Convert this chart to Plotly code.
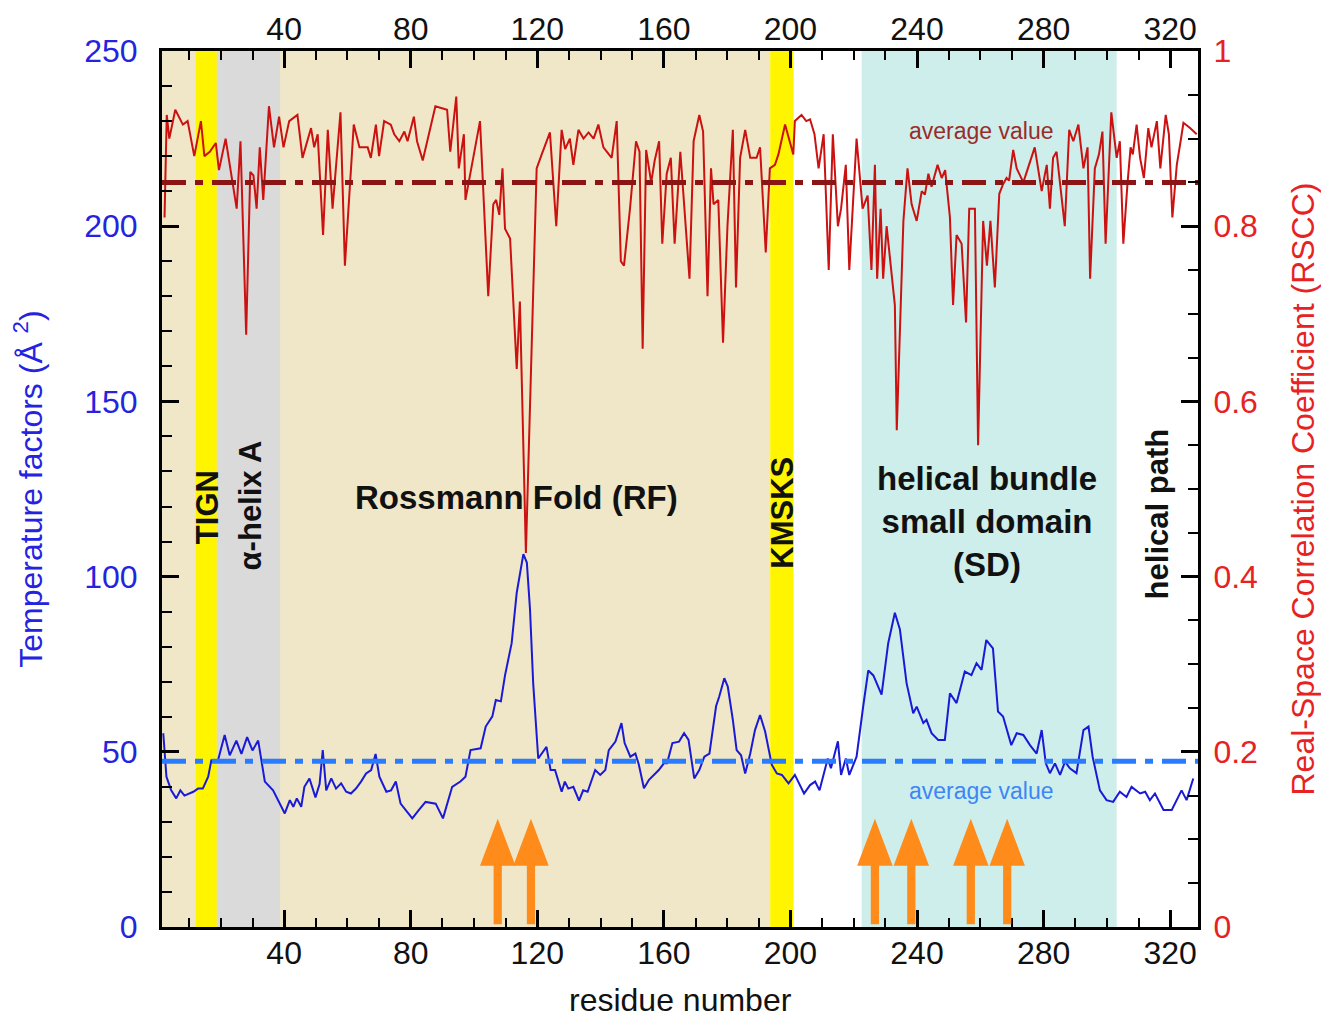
import plotly.graph_objects as go

# ---------------- data ----------------
rscc_res = [2.2, 2.9, 3.7, 5.6, 8.0, 9.5, 11.6, 13.7, 14.8, 16.5, 18.4, 19.4, 21.5, 23.0, 25.0, 26.2, 28.0, 29.3, 30.3, 31.3,
            32.3, 33.4, 35.2, 36.8, 38.4, 39.8, 41.6, 44.2, 45.8, 48.5, 49.5, 50.6, 52.3, 53.8, 55.3, 57.8, 59.2, 62.0, 63.8, 66.4,
            67.4, 69.0, 70.0, 71.6, 73.7, 74.8, 76.4, 78.0, 79.0, 81.0, 82.0, 83.8, 87.8, 91.5, 92.5, 94.4, 95.2, 96.8, 97.3, 101.9,
            104.5, 106.1, 107.0, 108.0, 109.0, 109.8, 111.4, 113.5, 114.5, 116.4, 118.2, 119.8, 121.4, 124.0, 126.0, 127.7, 128.8, 130.3, 131.4, 133.0,
            134.6, 136.2, 137.8, 139.3, 140.9, 143.5, 145.1, 146.4, 147.4, 149.3, 151.2, 152.3, 153.3, 154.4, 156.0, 157.1, 158.5, 159.5, 160.9, 162.2,
            163.4, 165.2, 168.1, 169.4, 171.2, 172.4, 173.8, 174.9, 175.7, 177.2, 178.7, 180.1, 181.8, 182.8, 184.1, 185.7, 187.3, 189.3, 190.4, 192.2,
            193.5, 195.1, 196.2, 198.3, 200.9, 201.4, 203.5, 205.0, 206.2, 207.6, 208.9, 210.5, 212.1, 213.4, 215.0, 216.0, 217.5, 218.6, 220.9, 222.8,
            224.4, 225.6, 226.7, 227.4, 228.5, 229.3, 230.4, 233.0, 233.6, 235.7, 237.0, 238.3, 239.9, 241.5, 242.5, 243.6, 244.6, 246.5, 247.8, 248.9,
            250.4, 251.4, 252.5, 254.1, 255.5, 256.5, 258.3, 259.3, 260.9, 262.1, 263.2, 264.6, 266.0, 267.2, 268.3, 269.1, 270.4, 271.5, 273.6, 275.7,
            277.2, 279.4, 281.0, 282.0, 283.0, 284.1, 286.7, 288.1, 289.4, 291.0, 292.6, 293.9, 294.7, 296.2, 297.5, 298.6, 299.6, 301.4, 303.1, 304.1,
            305.2, 306.5, 307.5, 308.2, 309.4, 310.5, 311.7, 313.1, 314.1, 315.8, 316.9, 318.6, 319.6, 320.7, 322.1, 323.3, 324.2, 326.3, 328.4]
rscc_val = [0.81, 0.927, 0.90, 0.933, 0.916, 0.92, 0.88, 0.92, 0.88, 0.885, 0.895, 0.864, 0.90, 0.866, 0.82, 0.897, 0.676, 0.862, 0.858, 0.82,
            0.89, 0.83, 0.937, 0.89, 0.925, 0.89, 0.92, 0.927, 0.878, 0.912, 0.89, 0.905, 0.79, 0.91, 0.82, 0.93, 0.755, 0.916, 0.89, 0.89,
            0.878, 0.916, 0.88, 0.92, 0.916, 0.905, 0.897, 0.908, 0.897, 0.925, 0.897, 0.875, 0.937, 0.933, 0.885, 0.948, 0.866, 0.905, 0.83, 0.92,
            0.72, 0.825, 0.83, 0.813, 0.866, 0.797, 0.786, 0.637, 0.714, 0.427, 0.67, 0.866, 0.882, 0.907, 0.80, 0.91, 0.888, 0.90, 0.87, 0.91,
            0.90, 0.907, 0.90, 0.916, 0.89, 0.878, 0.92, 0.76, 0.755, 0.82, 0.897, 0.885, 0.66, 0.887, 0.85, 0.875, 0.897, 0.78, 0.86, 0.878,
            0.78, 0.885, 0.74, 0.897, 0.927, 0.908, 0.72, 0.866, 0.825, 0.83, 0.667, 0.80, 0.91, 0.73, 0.878, 0.91, 0.878, 0.878, 0.89, 0.77,
            0.866, 0.87, 0.882, 0.916, 0.882, 0.92, 0.927, 0.92, 0.922, 0.905, 0.866, 0.905, 0.75, 0.905, 0.80, 0.82, 0.87, 0.75, 0.90, 0.82,
            0.835, 0.75, 0.87, 0.74, 0.82, 0.74, 0.80, 0.71, 0.567, 0.806, 0.866, 0.825, 0.806, 0.84, 0.836, 0.86, 0.845, 0.87, 0.855, 0.864,
            0.81, 0.71, 0.79, 0.78, 0.69, 0.82, 0.82, 0.55, 0.806, 0.755, 0.806, 0.73, 0.837, 0.848, 0.855, 0.852, 0.887, 0.866, 0.85, 0.874,
            0.89, 0.84, 0.87, 0.82, 0.878, 0.885, 0.80, 0.91, 0.897, 0.916, 0.866, 0.89, 0.74, 0.866, 0.882, 0.908, 0.78, 0.93, 0.878, 0.897,
            0.78, 0.848, 0.89, 0.882, 0.916, 0.878, 0.855, 0.912, 0.89, 0.92, 0.866, 0.927, 0.905, 0.81, 0.87, 0.897, 0.918, 0.912, 0.905]

bfac_res = [1.8, 2.8, 4.3, 5.9, 7.2, 8.5, 11.3, 12.8, 14.3, 16.0, 17.0, 19.1, 21.2, 22.8, 24.9, 26.5, 28.3, 30.0, 31.8, 33.9,
            36.5, 40.2, 41.8, 42.9, 44.0, 45.4, 46.4, 48.0, 49.9, 51.2, 52.2, 53.3, 54.9, 56.4, 58.0, 59.6, 61.1, 62.7, 64.3, 65.9,
            67.5, 68.9, 70.1, 72.3, 73.8, 75.3, 76.8, 78.4, 80.5, 82.6, 84.7, 87.9, 90.2, 93.1, 95.7, 97.3, 98.9, 102.1, 103.7, 105.8,
            106.9, 108.5, 109.8, 111.9, 113.5, 115.6, 116.7, 117.7, 118.7, 120.3, 121.5, 122.9, 124.2, 125.6, 127.7, 128.7, 129.8, 131.4, 133.2, 134.5,
            135.9, 138.3, 139.9, 141.5, 142.6, 144.7, 146.6, 147.6, 149.4, 151.0, 152.1, 153.7, 155.3, 156.8, 158.4, 160.0, 161.0, 162.7, 164.8, 166.4,
            167.8, 169.6, 171.2, 172.8, 174.4, 176.5, 177.5, 179.1, 180.2, 181.8, 183.0, 184.4, 185.7, 187.3, 188.8, 190.4, 192.0, 194.1, 195.7, 197.3,
            199.4, 201.4, 204.3, 206.2, 207.8, 209.2, 210.4, 211.8, 212.8, 215.0, 216.0, 217.5, 218.6, 220.9, 223.0, 224.6, 226.2, 228.8, 230.9, 233.0,
            234.6, 236.7, 238.8, 239.9, 242.0, 243.0, 244.6, 246.7, 248.8, 250.4, 252.5, 255.1, 257.2, 258.8, 260.4, 261.9, 264.0, 265.6, 267.2, 269.8,
            271.5, 273.6, 275.7, 277.8, 279.4, 280.7, 282.0, 283.6, 285.2, 286.8, 288.3, 290.4, 292.6, 294.2, 295.5, 297.8, 299.9, 302.0, 304.1, 306.2,
            307.8, 310.5, 312.1, 313.6, 315.2, 317.9, 320.5, 322.6, 323.6, 325.2, 327.3]
bfac_val = [55.3, 42.9, 39.0, 36.7, 39.0, 37.5, 38.6, 39.5, 39.5, 42.9, 47.6, 47.6, 54.8, 49.0, 53.2, 49.4, 54.2, 50.4, 53.2, 41.5,
            39.0, 32.4, 36.2, 34.3, 36.7, 34.3, 40.0, 42.4, 37.0, 40.8, 50.5, 39.0, 42.4, 39.5, 41.0, 38.6, 38.1, 39.5, 41.5, 43.8,
            44.8, 49.4, 42.9, 38.6, 39.0, 41.5, 35.2, 33.4, 31.0, 33.4, 35.7, 35.2, 31.0, 40.0, 41.5, 42.9, 50.5, 51.0, 57.2, 60.1,
            64.8, 64.4, 71.8, 81.0, 95.4, 106.4, 104.0, 90.6, 69.6, 48.1, 49.5, 51.4, 44.8, 44.8, 38.6, 41.5, 39.5, 40.0, 36.1, 39.0,
            38.6, 44.8, 43.4, 44.8, 50.5, 52.9, 58.2, 52.5, 48.6, 49.5, 46.3, 39.6, 42.0, 43.4, 44.8, 46.7, 46.7, 52.5, 52.9, 55.3,
            53.4, 42.4, 44.8, 48.6, 49.5, 63.0, 65.8, 71.0, 68.6, 59.1, 50.5, 49.0, 43.8, 49.5, 56.2, 60.5, 55.8, 46.3, 43.8, 43.4,
            41.0, 43.4, 38.1, 40.5, 41.5, 39.0, 43.4, 48.1, 45.3, 53.0, 43.4, 48.1, 43.4, 48.6, 63.0, 73.2, 71.8, 66.3, 81.0, 89.7,
            84.9, 69.6, 61.0, 62.9, 58.2, 59.1, 55.3, 53.4, 53.4, 66.7, 63.9, 72.9, 71.9, 75.3, 73.4, 81.9, 79.5, 61.5, 60.1, 51.9,
            55.3, 54.8, 51.9, 49.5, 56.2, 46.7, 43.9, 46.7, 43.4, 47.2, 45.3, 43.9, 56.2, 57.2, 48.6, 39.0, 36.2, 35.7, 38.6, 37.1,
            40.0, 38.1, 38.6, 36.2, 38.1, 33.4, 33.4, 37.1, 39.0, 36.2, 42.4]

bfac_mean = 47.3
rscc_mean = 0.85

# residue ranges of the shaded domains
rf_range = [1.4, 193.6]
tign_range = [12.1, 18.7]
helixA_range = [18.7, 38.7]
kmsks_range = [193.6, 201.0]
sd_range = [222.5, 303.1]

# residues marked by arrows
arrow_res = [107.5, 118.0, 226.7, 238.2, 257.0, 268.5]

x_ticks = [40, 80, 120, 160, 200, 240, 280, 320]
b_ticks = [0, 50, 100, 150, 200, 250]
r_ticks = [0, 0.2, 0.4, 0.6, 0.8, 1]
r_ticklabels = ["0", "0.2", "0.4", "0.6", "0.8", "1"]

# ---------------- styling ----------------
FONT = "Liberation Sans, Arial, sans-serif"
BLUE = "#1a1ad6"
BLUE_AXIS = "#2424e0"
RED = "#cc1111"
RED_AXIS = "#e62222"
DARKRED = "#8b1414"
AVG_BLUE = "#2a7cff"
ORANGE = "#ff8c1a"
XR = [1.4, 328.8]

fig = go.Figure()

fig.add_trace(go.Scatter(x=bfac_res, y=bfac_val, mode="lines", line=dict(color=BLUE, width=2),
                         xaxis="x", yaxis="y", showlegend=False))
fig.add_trace(go.Scatter(x=rscc_res, y=rscc_val, mode="lines", line=dict(color=RED, width=2),
                         xaxis="x", yaxis="y2", showlegend=False))
fig.add_trace(go.Scatter(x=XR, y=[bfac_mean, bfac_mean], mode="lines",
                         line=dict(color=AVG_BLUE, width=5, dash="24px,9px,8px,9px"),
                         xaxis="x2", yaxis="y", showlegend=False))
fig.add_trace(go.Scatter(x=XR, y=[rscc_mean, rscc_mean], mode="lines",
                         line=dict(color=DARKRED, width=5, dash="24px,9px,8px,9px"),
                         xaxis="x", yaxis="y2", showlegend=False))

shapes = []
def band(rng, color):
    shapes.append(dict(type="rect", xref="x", yref="paper", x0=rng[0], x1=rng[1], y0=0, y1=1,
                       fillcolor=color, line=dict(width=0), layer="below"))

band(rf_range, "#efe7c8")
band(sd_range, "#cdeeea")
band(helixA_range, "#dadada")
band(tign_range, "#fff500")
band(kmsks_range, "#fff500")

# arrows (sizes in residue / B-factor units)
half_shaft = 1.3
half_head = 5.6
y_base, y_neck, y_tip = 0.8, 17.5, 30.9
for r in arrow_res:
    p = (f"M {r-half_shaft},{y_base} L {r+half_shaft},{y_base} L {r+half_shaft},{y_neck} "
         f"L {r+half_head},{y_neck} L {r},{y_tip} L {r-half_head},{y_neck} L {r-half_shaft},{y_neck} Z")
    shapes.append(dict(type="path", xref="x", yref="y", path=p, fillcolor=ORANGE,
                       line=dict(width=0), layer="above"))

ann = []
def label(x, y, text, size=33, angle=0, color="#111111", bold=True):
    t = f"<b>{text}</b>" if bold else text
    ann.append(dict(x=x, y=y, xref="x", yref="y", text=t, showarrow=False, textangle=angle,
                    font=dict(family=FONT, size=size, color=color), xanchor="center", yanchor="middle"))

label(15.6, 119.8, "TIGN", angle=-90, size=31)
label(29.2, 120.3, "α-helix A", angle=-90, size=31)
label(113.3, 122.6, "Rossmann Fold (RF)", size=33)
label(197.4, 118.3, "KMSKS", angle=-90, size=31)
label(262.1, 115.8, "helical bundle<br>small domain<br>(SD)", size=33)
label(315.9, 117.8, "helical path", angle=-90, size=31)
label(260.5, 227.2, "average value", size=23, color="#9a2b2b", bold=False)
label(260.5, 38.7, "average value", size=23, color="#3d86f5", bold=False)

# x-axis title placed as a paper annotation below the tick labels
ann.append(dict(x=0.5, y=0, xref="paper", yref="paper", yshift=-73, text="residue number", showarrow=False,
                font=dict(family=FONT, size=32, color="#111111"), xanchor="center", yanchor="middle"))

axis_common = dict(ticks="inside", ticklen=17, tickwidth=2.5, tickcolor="black", automargin=False,
                   showline=True, linewidth=3, linecolor="black", showgrid=False, zeroline=False)

# figure sized to fit inside the window next to the page's body margin
fig.update_layout(
    width=1313, height=1010,
    margin=dict(l=154, r=123, t=43, b=91, autoexpand=False),
    paper_bgcolor="white", plot_bgcolor="white",
    font=dict(family=FONT),
    shapes=shapes, annotations=ann,
    xaxis=dict(range=XR, tickvals=x_ticks, **axis_common,
               minor=dict(dtick=10, tick0=0, ticklen=9, tickwidth=2, ticks="inside", tickcolor="black"),
               tickfont=dict(size=32, color="#111111"), ticklabelstandoff=-4),
    xaxis2=dict(range=XR, tickvals=x_ticks, overlaying="x", side="top", anchor="y", matches="x",
                **axis_common,
                minor=dict(dtick=10, tick0=0, ticklen=9, tickwidth=2, ticks="inside", tickcolor="black"),
                tickfont=dict(size=32, color="#111111"), ticklabelstandoff=-5),
    yaxis=dict(range=[0, 250], tickvals=b_ticks, **axis_common,
               minor=dict(dtick=10, tick0=0, ticklen=10, tickwidth=2, ticks="inside", tickcolor="black"),
               tickfont=dict(size=32, color=BLUE_AXIS), ticklabelstandoff=15,
               title=dict(text="Temperature factors (Å <sup>2</sup>)", font=dict(size=32, color=BLUE_AXIS), standoff=33)),
    yaxis2=dict(range=[0, 1], tickvals=r_ticks, ticktext=r_ticklabels, overlaying="y", side="right", anchor="x",
                **axis_common,
                minor=dict(dtick=0.05, tick0=0, ticklen=10, tickwidth=2, ticks="inside", tickcolor="black"),
                tickfont=dict(size=32, color=RED_AXIS), ticklabelstandoff=6,
                title=dict(text="Real-Space Correlation Coefficient (RSCC)", font=dict(size=32, color=RED_AXIS), standoff=36)),
)

fig.write_html("out.html")
